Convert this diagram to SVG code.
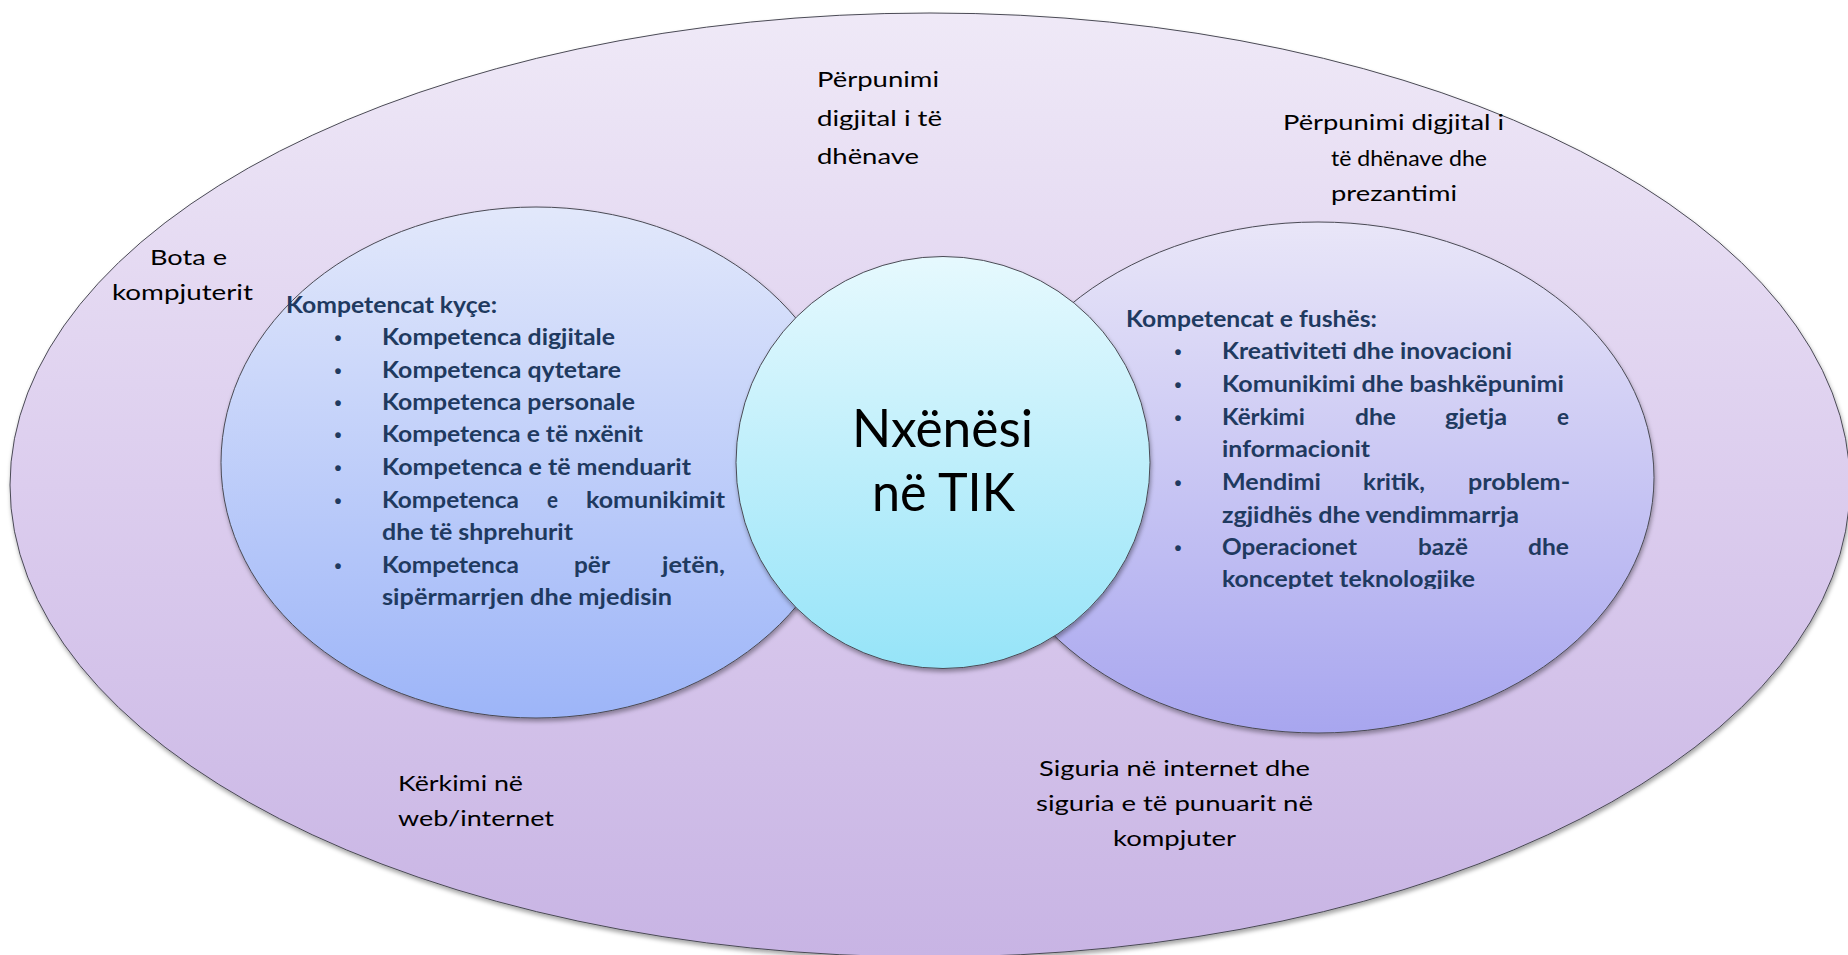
<svg xmlns="http://www.w3.org/2000/svg" width="1848" height="955" viewBox="0 0 1848 955">
  <defs>
    <linearGradient id="gOuter" x1="0" y1="0" x2="0" y2="1">
      <stop offset="0" stop-color="#efe9f7"/>
      <stop offset="0.5" stop-color="#dccdee"/>
      <stop offset="1" stop-color="#c8b4e4"/>
    </linearGradient>
    <linearGradient id="gLeft" x1="0" y1="0" x2="0" y2="1">
      <stop offset="0" stop-color="#e2e8fb"/>
      <stop offset="1" stop-color="#9db5f8"/>
    </linearGradient>
    <linearGradient id="gRight" x1="0" y1="0" x2="0" y2="1">
      <stop offset="0" stop-color="#e9e6f8"/>
      <stop offset="1" stop-color="#a8a6ef"/>
    </linearGradient>
    <linearGradient id="gCenter" x1="0" y1="0" x2="0" y2="1">
      <stop offset="0" stop-color="#e6f9fe"/>
      <stop offset="1" stop-color="#96e4f8"/>
    </linearGradient>
    <filter id="shadow" x="-5%" y="-5%" width="110%" height="112%">
      <feDropShadow dx="1" dy="3" stdDeviation="2" flood-color="#000" flood-opacity="0.35"/>
    </filter>
    <clipPath id="clipLast">
      <rect x="1100" y="560" width="500" height="29"/>
    </clipPath>
  </defs>
  <style>
    .shape { stroke: #4a4a55; stroke-width: 1; filter: url(#shadow); }
    .lbl { font-family: Lato, "Liberation Sans", sans-serif; font-size: 21.5px; fill: #000; }
    .big { font-family: Lato, "Liberation Sans", sans-serif; font-size: 52px; fill: #000; }
    .lst { font-family: Lato, "Liberation Sans", sans-serif; font-size: 22px; font-weight: bold; fill: #1f3a60; }
    .bul { font-family: "Liberation Sans", sans-serif; font-size: 20px; font-weight: bold; fill: #1f3a60; text-anchor: middle; }
  </style>

  <g id="outer">
    <ellipse class="shape" cx="930" cy="485" rx="920" ry="472" fill="url(#gOuter)"/>
    <text class="lbl" x="150" y="265" textLength="77" lengthAdjust="spacingAndGlyphs">Bota e</text>
    <text class="lbl" x="112" y="300" textLength="141" lengthAdjust="spacingAndGlyphs">kompjuterit</text>
    <text class="lbl" x="817" y="87" textLength="122" lengthAdjust="spacingAndGlyphs">Përpunimi</text>
    <text class="lbl" x="817" y="126" textLength="125" lengthAdjust="spacingAndGlyphs">digjital i të</text>
    <text class="lbl" x="817" y="164" textLength="102" lengthAdjust="spacingAndGlyphs">dhënave</text>
    <text class="lbl" x="1283" y="130" textLength="221" lengthAdjust="spacingAndGlyphs">Përpunimi digjital i</text>
    <text class="lbl" x="1331" y="166" textLength="156" lengthAdjust="spacingAndGlyphs">të dhënave dhe</text>
    <text class="lbl" x="1331" y="201" textLength="126" lengthAdjust="spacingAndGlyphs">prezantimi</text>
    <text class="lbl" x="398" y="791" textLength="125" lengthAdjust="spacingAndGlyphs">Kërkimi në</text>
    <text class="lbl" x="398" y="826" textLength="156" lengthAdjust="spacingAndGlyphs">web/internet</text>
    <text class="lbl" x="1039" y="776" textLength="271" lengthAdjust="spacingAndGlyphs">Siguria në internet dhe</text>
    <text class="lbl" x="1036" y="811" textLength="277" lengthAdjust="spacingAndGlyphs">siguria e të punuarit në</text>
    <text class="lbl" x="1113" y="846" textLength="123" lengthAdjust="spacingAndGlyphs">kompjuter</text>
  </g>

  <g id="kyce">
    <ellipse class="shape" cx="536" cy="462.5" rx="315" ry="255.5" fill="url(#gLeft)"/>
    <text class="lst" x="286" y="313" textLength="211" lengthAdjust="spacingAndGlyphs">Kompetencat kyçe:</text>
    <text class="bul" x="338" y="345">•</text>
    <text class="bul" x="338" y="378">•</text>
    <text class="bul" x="338" y="410">•</text>
    <text class="bul" x="338" y="442">•</text>
    <text class="bul" x="338" y="475">•</text>
    <text class="bul" x="338" y="508">•</text>
    <text class="bul" x="338" y="573">•</text>
    <text class="lst" x="382" y="345" textLength="233" lengthAdjust="spacingAndGlyphs">Kompetenca digjitale</text>
    <text class="lst" x="382" y="378" textLength="239" lengthAdjust="spacingAndGlyphs">Kompetenca qytetare</text>
    <text class="lst" x="382" y="410" textLength="253" lengthAdjust="spacingAndGlyphs">Kompetenca personale</text>
    <text class="lst" x="382" y="442" textLength="261" lengthAdjust="spacingAndGlyphs">Kompetenca e të nxënit</text>
    <text class="lst" x="382" y="475" textLength="309" lengthAdjust="spacingAndGlyphs">Kompetenca e të menduarit</text>
    <text class="lst" x="382" y="508" textLength="137" lengthAdjust="spacingAndGlyphs">Kompetenca</text>
    <text class="lst" x="547" y="508" textLength="11" lengthAdjust="spacingAndGlyphs">e</text>
    <text class="lst" x="586" y="508" textLength="139" lengthAdjust="spacingAndGlyphs">komunikimit</text>
    <text class="lst" x="382" y="540" textLength="191" lengthAdjust="spacingAndGlyphs">dhe të shprehurit</text>
    <text class="lst" x="382" y="573" textLength="137" lengthAdjust="spacingAndGlyphs">Kompetenca</text>
    <text class="lst" x="574" y="573" textLength="36" lengthAdjust="spacingAndGlyphs">për</text>
    <text class="lst" x="662" y="573" textLength="63" lengthAdjust="spacingAndGlyphs">jetën,</text>
    <text class="lst" x="382" y="605" textLength="290" lengthAdjust="spacingAndGlyphs">sipërmarrjen dhe mjedisin</text>
  </g>

  <g id="fushes">
    <ellipse class="shape" cx="1318" cy="477.5" rx="336" ry="255.5" fill="url(#gRight)"/>
    <text class="lst" x="1126" y="327" textLength="251" lengthAdjust="spacingAndGlyphs">Kompetencat e fushës:</text>
    <text class="bul" x="1178" y="359">•</text>
    <text class="bul" x="1178" y="392">•</text>
    <text class="bul" x="1178" y="425">•</text>
    <text class="bul" x="1178" y="490">•</text>
    <text class="bul" x="1178" y="555">•</text>
    <text class="lst" x="1222" y="359" textLength="290" lengthAdjust="spacingAndGlyphs">Kreativiteti dhe inovacioni</text>
    <text class="lst" x="1222" y="392" textLength="342" lengthAdjust="spacingAndGlyphs">Komunikimi dhe bashkëpunimi</text>
    <text class="lst" x="1222" y="425" textLength="83" lengthAdjust="spacingAndGlyphs">Kërkimi</text>
    <text class="lst" x="1355" y="425" textLength="41" lengthAdjust="spacingAndGlyphs">dhe</text>
    <text class="lst" x="1445" y="425" textLength="62" lengthAdjust="spacingAndGlyphs">gjetja</text>
    <text class="lst" x="1557" y="425" textLength="12" lengthAdjust="spacingAndGlyphs">e</text>
    <text class="lst" x="1222" y="457" textLength="148" lengthAdjust="spacingAndGlyphs">informacionit</text>
    <text class="lst" x="1222" y="490" textLength="99" lengthAdjust="spacingAndGlyphs">Mendimi</text>
    <text class="lst" x="1363" y="490" textLength="62" lengthAdjust="spacingAndGlyphs">kritik,</text>
    <text class="lst" x="1468" y="490" textLength="102" lengthAdjust="spacingAndGlyphs">problem-</text>
    <text class="lst" x="1222" y="523" textLength="297" lengthAdjust="spacingAndGlyphs">zgjidhës dhe vendimmarrja</text>
    <text class="lst" x="1222" y="555" textLength="135" lengthAdjust="spacingAndGlyphs">Operacionet</text>
    <text class="lst" x="1418" y="555" textLength="50" lengthAdjust="spacingAndGlyphs">bazë</text>
    <text class="lst" x="1528" y="555" textLength="41" lengthAdjust="spacingAndGlyphs">dhe</text>
    <text class="lst" x="1222" y="587" textLength="253" lengthAdjust="spacingAndGlyphs" clip-path="url(#clipLast)">konceptet teknologjike</text>
  </g>

  <g id="nxenesi">
    <ellipse class="shape" cx="943" cy="462.5" rx="207" ry="206" fill="url(#gCenter)"/>
    <text class="big" x="852" y="447" textLength="181" lengthAdjust="spacingAndGlyphs">Nxënësi</text>
    <text class="big" x="872" y="511" textLength="143" lengthAdjust="spacingAndGlyphs">në TIK</text>
  </g>

  <g id="connectors"/>
</svg>
